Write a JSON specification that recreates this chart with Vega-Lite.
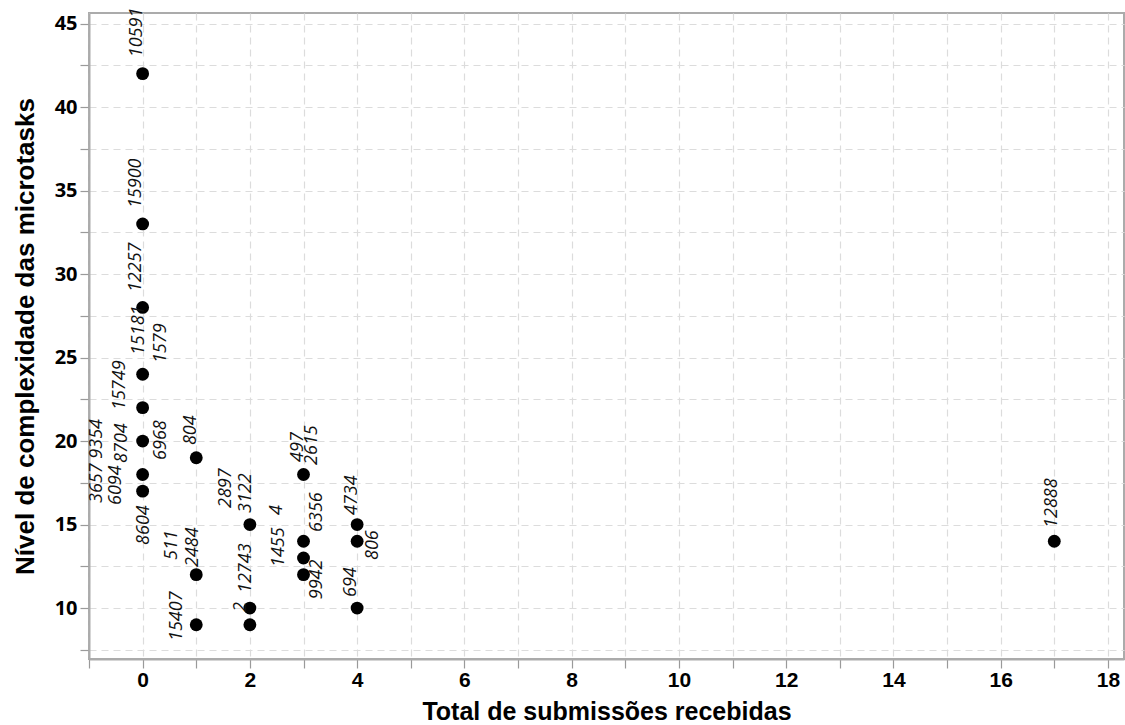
{
  "$schema": "https://vega.github.io/schema/vega-lite/v6.json",
  "width": 1035,
  "height": 646,
  "autosize": {"type": "none"},
  "padding": {"left": 89, "top": 13, "right": 1, "bottom": 66},
  "background": "white",
  "config": {
    "view": {"stroke": "#ababab", "strokeWidth": 2},
    "axis": {
      "grid": true,
      "gridColor": "#dcdcdc",
      "gridDash": [7, 5],
      "gridWidth": 1.2,
      "domainColor": "#ababab",
      "domainWidth": 2,
      "tickColor": "#9a9a9a",
      "tickSize": 9,
      "tickWidth": 1.2,
      "labelColor": "#000000",
      "titleColor": "#000000",
      "labelFontWeight": "bold",
      "titleFontWeight": "bold",
      "titleFont": "Liberation Sans"
    }
  },
  "datasets": {
    "points": [
      {"submissoes": 0, "complexidade": 42},
      {"submissoes": 0, "complexidade": 33},
      {"submissoes": 0, "complexidade": 28},
      {"submissoes": 0, "complexidade": 24},
      {"submissoes": 0, "complexidade": 22},
      {"submissoes": 0, "complexidade": 20},
      {"submissoes": 0, "complexidade": 18},
      {"submissoes": 0, "complexidade": 17},
      {"submissoes": 1, "complexidade": 19},
      {"submissoes": 1, "complexidade": 12},
      {"submissoes": 1, "complexidade": 9},
      {"submissoes": 2, "complexidade": 15},
      {"submissoes": 2, "complexidade": 10},
      {"submissoes": 2, "complexidade": 9},
      {"submissoes": 3, "complexidade": 18},
      {"submissoes": 3, "complexidade": 14},
      {"submissoes": 3, "complexidade": 13},
      {"submissoes": 3, "complexidade": 12},
      {"submissoes": 4, "complexidade": 15},
      {"submissoes": 4, "complexidade": 14},
      {"submissoes": 4, "complexidade": 10},
      {"submissoes": 17, "complexidade": 14}
    ],
    "labels": [
      {"id": "10591", "lx": -0.10, "ly": 42.98},
      {"id": "15900", "lx": -0.12, "ly": 33.95},
      {"id": "12257", "lx": -0.12, "ly": 28.92},
      {"id": "15181", "lx": -0.06, "ly": 25.15},
      {"id": "1579", "lx": 0.35, "ly": 24.67},
      {"id": "15749", "lx": -0.43, "ly": 21.86},
      {"id": "3657 9354", "lx": -0.86, "ly": 16.29},
      {"id": "8704", "lx": -0.38, "ly": 18.69},
      {"id": "6094", "lx": -0.49, "ly": 16.17},
      {"id": "6968", "lx": 0.35, "ly": 18.87},
      {"id": "8604", "lx": 0.03, "ly": 13.78},
      {"id": "804", "lx": 0.91, "ly": 19.76},
      {"id": "511", "lx": 0.55, "ly": 12.88},
      {"id": "2484", "lx": 0.93, "ly": 12.46},
      {"id": "15407", "lx": 0.65, "ly": 8.03},
      {"id": "2897", "lx": 1.56, "ly": 15.99},
      {"id": "3122", "lx": 1.93, "ly": 15.69},
      {"id": "12743", "lx": 1.93, "ly": 10.90},
      {"id": "2", "lx": 1.84, "ly": 9.77},
      {"id": "4", "lx": 2.51, "ly": 15.57},
      {"id": "1455", "lx": 2.55, "ly": 12.46},
      {"id": "497", "lx": 2.89, "ly": 18.75},
      {"id": "2615", "lx": 3.15, "ly": 18.57},
      {"id": "6356", "lx": 3.26, "ly": 14.56},
      {"id": "9942", "lx": 3.26, "ly": 10.53},
      {"id": "4734", "lx": 3.91, "ly": 15.57},
      {"id": "806", "lx": 4.29, "ly": 12.88},
      {"id": "694", "lx": 3.89, "ly": 10.66},
      {"id": "12888", "lx": 16.95, "ly": 14.80}
    ]
  },
  "layer": [
    {
      "data": {"name": "points"},
      "mark": {"type": "point", "filled": true, "opacity": 1, "color": "#000000", "size": 165, "shape": "circle"},
      "encoding": {
        "x": {
          "field": "submissoes",
          "type": "quantitative",
          "scale": {"domain": [-1, 18.3], "nice": false, "zero": false},
          "axis": {
            "title": "Total de submissões recebidas",
            "titleFontSize": 25,
            "values": [-1, 0, 1, 2, 3, 4, 5, 6, 7, 8, 9, 10, 11, 12, 13, 14, 15, 16, 17, 18],
            "labelExpr": "datum.value % 2 == 0 ? datum.label : ''",
            "labelFont": "Liberation Sans",
            "labelFontSize": 21,
            "labelPadding": 1,
            "titlePadding": 9
          }
        },
        "y": {
          "field": "complexidade",
          "type": "quantitative",
          "scale": {"domain": [6.95, 45.63], "nice": false, "zero": false},
          "axis": {
            "title": "Nível de complexidade das microtasks",
            "titleFontSize": 26,
            "values": [7.5, 10, 12.5, 15, 17.5, 20, 22.5, 25, 27.5, 30, 32.5, 35, 37.5, 40, 42.5, 45],
            "labelExpr": "datum.value % 5 == 0 ? datum.label : ''",
            "labelFont": "Open Sans",
            "labelFontSize": 20,
            "labelPadding": 3,
            "titlePadding": 16
          }
        }
      }
    },
    {
      "mark": {"type": "rule", "color": "#222222", "strokeDash": [6, 4], "strokeWidth": 1.4},
      "encoding": {"x": {"datum": 9, "type": "quantitative"}}
    },
    {
      "mark": {"type": "rule", "color": "#222222", "strokeDash": [6, 4], "strokeWidth": 1.4},
      "encoding": {"y": {"datum": 25, "type": "quantitative"}}
    },
    {
      "data": {"name": "labels"},
      "mark": {"type": "text", "angle": 270, "align": "left", "baseline": "middle", "font": "Open Sans", "fontStyle": "italic", "fontSize": 18, "color": "#111111"},
      "encoding": {
        "x": {"field": "lx", "type": "quantitative"},
        "y": {"field": "ly", "type": "quantitative"},
        "text": {"field": "id", "type": "nominal"}
      }
    }
  ]
}
